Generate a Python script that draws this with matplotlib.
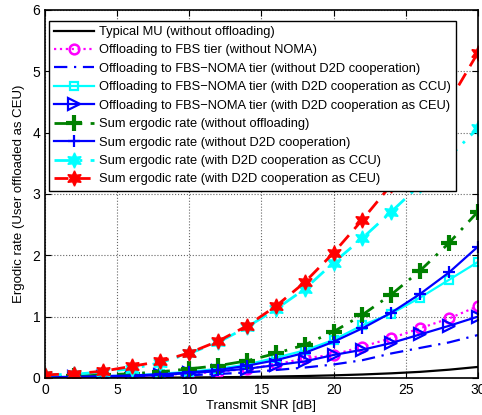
import matplotlib
matplotlib.use('Agg')
import matplotlib.pyplot as plt
import numpy as np

plt.rcParams['font.family'] = ['Liberation Sans', 'DejaVu Sans']

# transmit SNR in dB
snr = [0, 2, 4, 6, 8, 10, 12, 14, 16, 18, 20, 22, 24, 26, 28, 30]

typicalMU = [0.0, 0.001, 0.002, 0.003, 0.005, 0.008, 0.012, 0.017, 0.024, 0.032, 0.043, 0.057, 0.076, 0.10, 0.135, 0.18]
fbsNoNoma = [0.01, 0.01, 0.02, 0.03, 0.05, 0.07, 0.10, 0.15, 0.22, 0.32, 0.38, 0.51, 0.65, 0.81, 0.97, 1.17]
fbsNomaNoD2D = [0.005, 0.01, 0.015, 0.02, 0.03, 0.045, 0.065, 0.09, 0.13, 0.17, 0.22, 0.29, 0.40, 0.49, 0.58, 0.70]
fbsNomaCCU = [0.01, 0.02, 0.03, 0.04, 0.07, 0.10, 0.15, 0.22, 0.33, 0.45, 0.62, 0.86, 1.05, 1.31, 1.60, 1.89]
fbsNomaCEU = [0.01, 0.01, 0.02, 0.03, 0.05, 0.08, 0.11, 0.15, 0.21, 0.27, 0.375, 0.46, 0.57, 0.71, 0.85, 1.00]
sumNoOffload = [0.02, 0.03, 0.05, 0.07, 0.10, 0.15, 0.20, 0.28, 0.40, 0.54, 0.755, 1.03, 1.36, 1.75, 2.20, 2.71]
sumNoD2D = [0.01, 0.02, 0.03, 0.04, 0.06, 0.09, 0.13, 0.20, 0.29, 0.41, 0.59, 0.81, 1.065, 1.37, 1.72, 2.14]
sumCCU = [0.05, 0.06, 0.10, 0.15, 0.25, 0.40, 0.58, 0.83, 1.12, 1.45, 1.88, 2.28, 2.71, 3.15, 3.60, 4.07]
sumCEU = [0.05, 0.07, 0.11, 0.19, 0.27, 0.41, 0.60, 0.85, 1.17, 1.56, 2.04, 2.58, 3.15, 3.80, 4.50, 5.30]

labels = ['Typical MU (without offloading)',
          'Offloading to FBS tier (without NOMA)',
          'Offloading to FBS\u2212NOMA tier (without D2D cooperation)',
          'Offloading to FBS\u2212NOMA tier (with D2D cooperation as CCU)',
          'Offloading to FBS\u2212NOMA tier (with D2D cooperation as CEU)',
          'Sum ergodic rate (without offloading)',
          'Sum ergodic rate (without D2D cooperation)',
          'Sum ergodic rate (with D2D cooperation as CCU)',
          'Sum ergodic rate (with D2D cooperation as CEU)']

fig = plt.figure(figsize=(4.82, 4.15), dpi=100)
ax = fig.add_axes([0.0934, 0.0892, 0.898, 0.887])

hexagram = (6, 1, 0)
lw = 1.6

ax.plot(snr, typicalMU, color='black', lw=lw, label=labels[0])
ax.plot(snr, fbsNoNoma, color='magenta', lw=lw, ls=':', marker='o', ms=7,
        mfc='none', mew=1.8, label=labels[1])
ax.plot(snr, fbsNomaNoD2D, color='blue', lw=lw, ls='-.', dashes=(6, 3, 1, 3), label=labels[2])
ax.plot(snr, fbsNomaCCU, color='cyan', lw=lw, marker='s', ms=6,
        mfc='none', mew=1.6, label=labels[3])
ax.plot(snr, fbsNomaCEU, color='blue', lw=lw, marker='>', ms=8,
        mfc='none', mew=1.6, label=labels[4])
ax.plot(snr, sumNoOffload, color='green', lw=lw + 0.4, ls='-.', dashes=(6, 3, 1, 3), marker='+', ms=11,
        mew=3, label=labels[5])
ax.plot(snr, sumNoD2D, color='blue', lw=lw, marker='+', ms=8,
        mew=1.6, label=labels[6])
ax.plot(snr, sumCCU, color='cyan', lw=lw + 0.4, ls='-.', dashes=(6, 3, 1, 3), marker=hexagram, ms=11,
        mfc='cyan', mec='cyan', label=labels[7])
ax.plot(snr, sumCEU, color='red', lw=lw + 0.4, ls='--', dashes=(5, 3), marker=hexagram, ms=11,
        mfc='red', mec='red', label=labels[8])

ax.set_xlim(0, 30)
ax.set_ylim(0, 6)
ax.set_xticks([0, 5, 10, 15, 20, 25, 30])
ax.set_yticks([0, 1, 2, 3, 4, 5, 6])
ax.grid(True, ls=':', color='#666666', lw=0.8)
ax.tick_params(direction='in', labelsize=10, length=4, top=True, right=True)
for sp in ax.spines.values():
    sp.set_linewidth(1.2)

ax.set_xlabel('Transmit SNR [dB]', fontsize=9.5, labelpad=2)
ax.set_ylabel('Ergodic rate (User offloaded as CEU)', fontsize=9.5, labelpad=5)

leg = ax.legend(loc='upper left', bbox_to_anchor=(0.009, 0.97), fontsize=9.25,
                handlelength=3.1, handletextpad=0.4, labelspacing=0.5,
                borderpad=0.4, borderaxespad=0, fancybox=False, framealpha=1)
leg.get_frame().set_edgecolor('black')
leg.get_frame().set_linewidth(1.0)

fig.savefig('out.png', dpi=100)
